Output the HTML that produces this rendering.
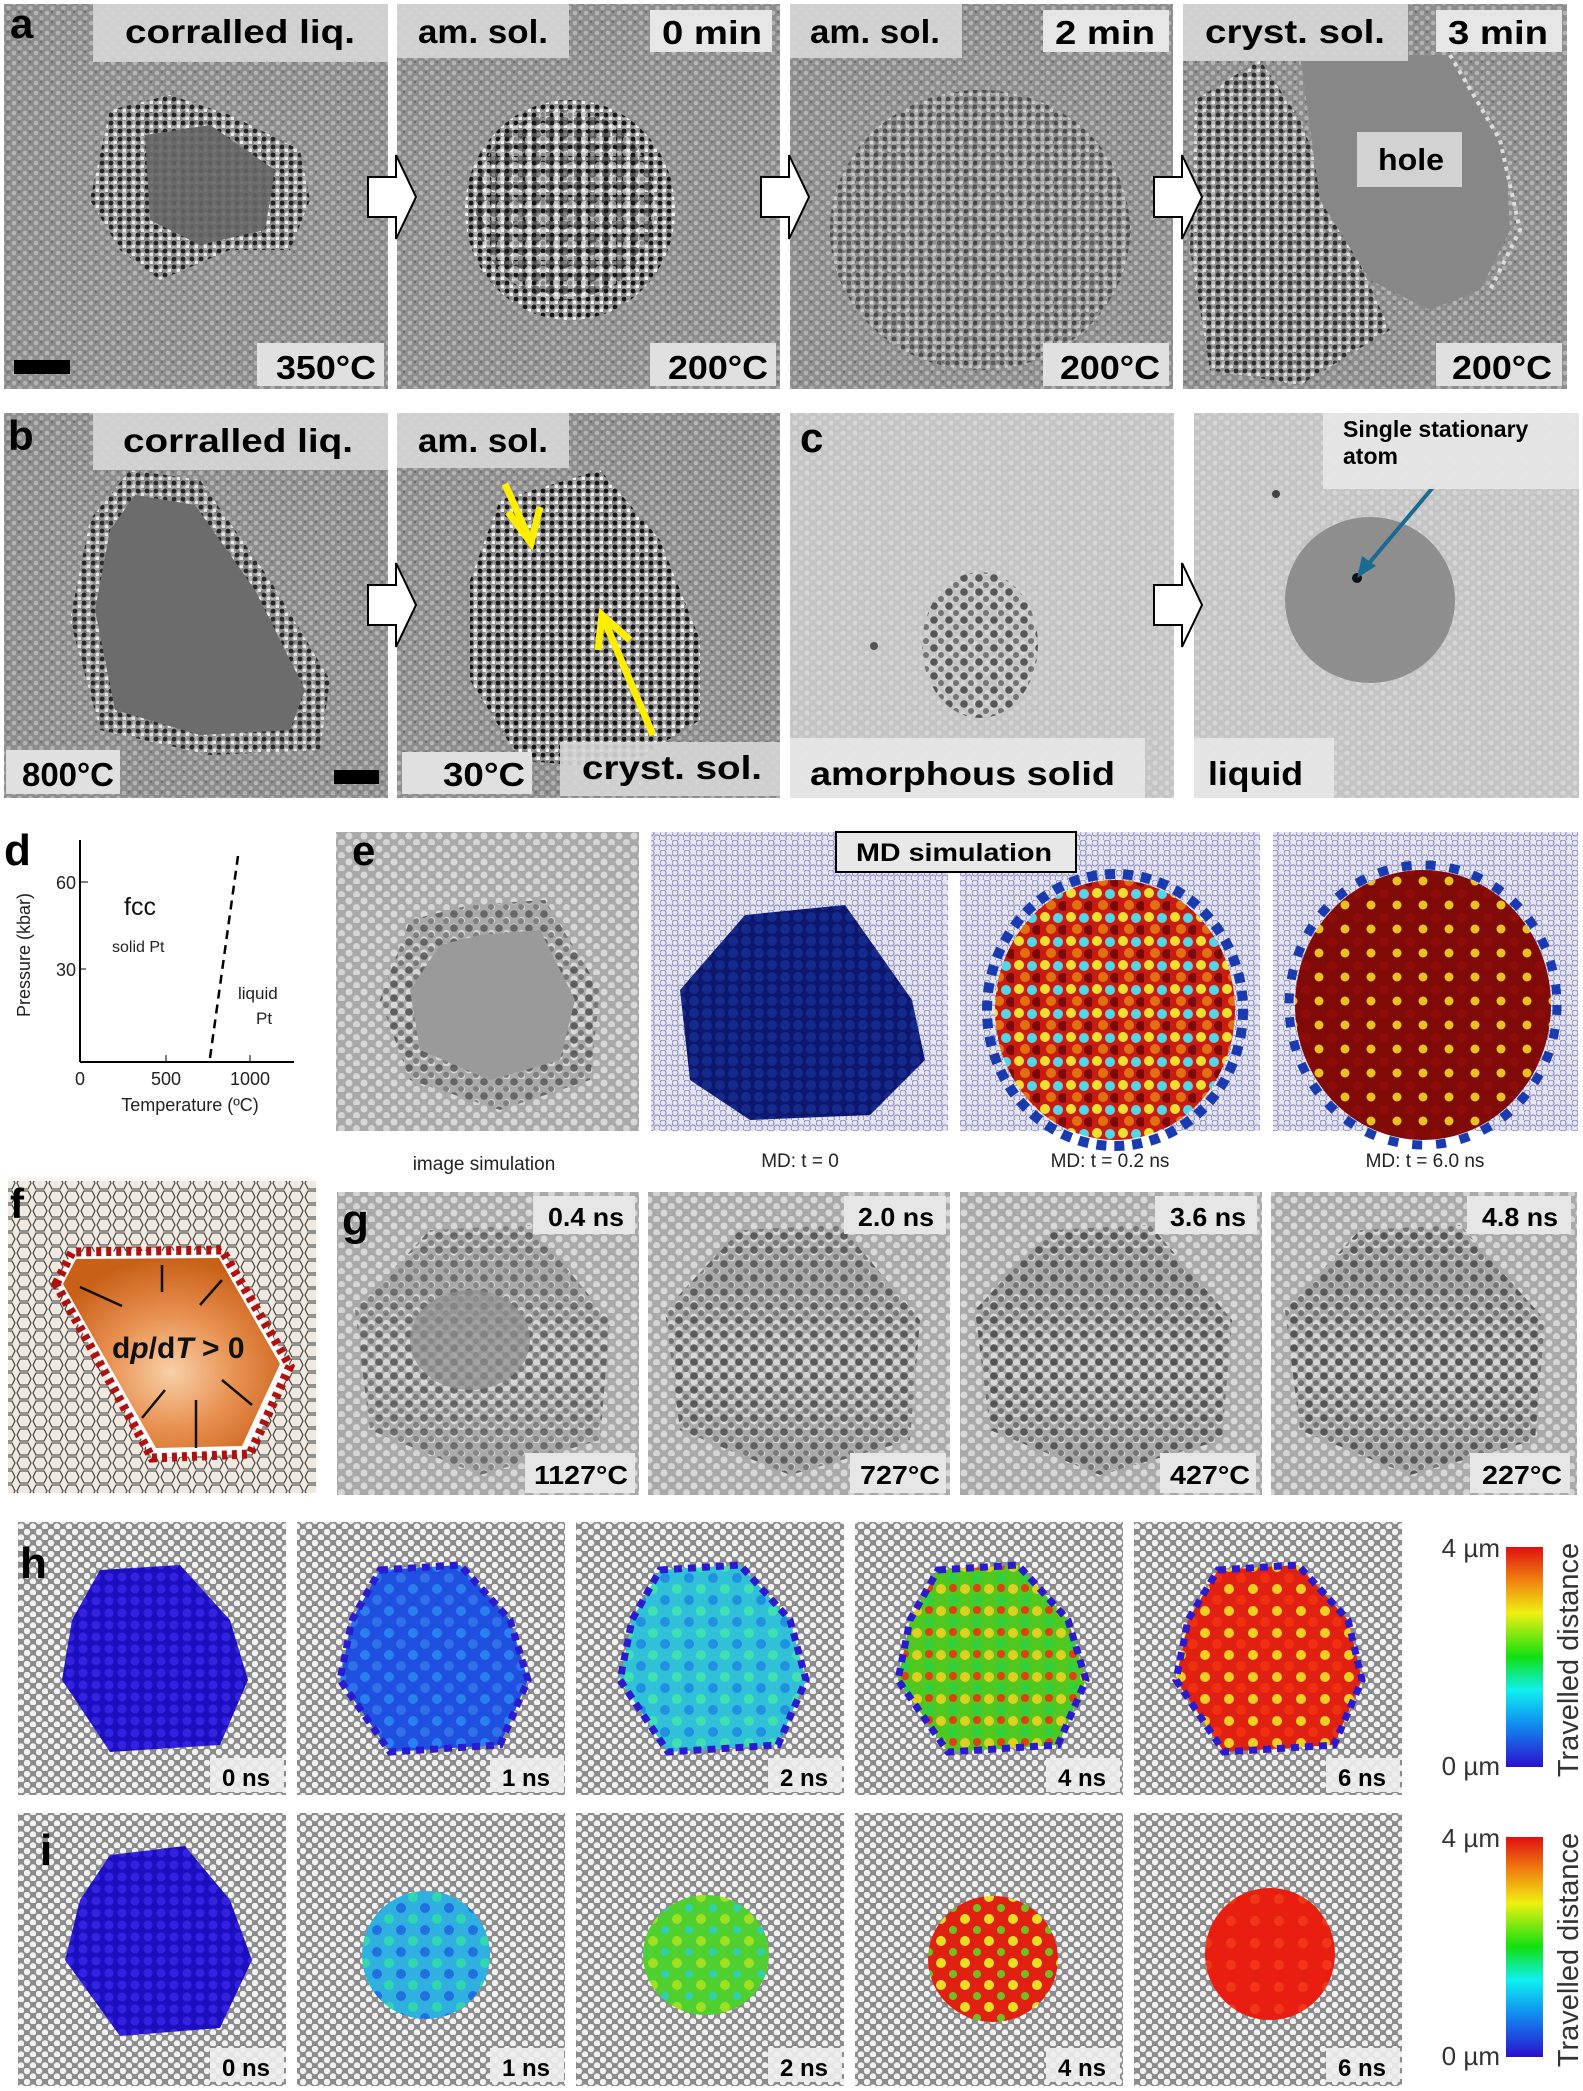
<!DOCTYPE html>
<html><head><meta charset="utf-8"><style>
html,body{margin:0;padding:0;background:#fff}
svg{display:block}
text{font-family:"Liberation Sans",sans-serif}
.b{font-weight:bold}
</style></head><body>
<svg width="1583" height="2091" viewBox="0 0 1583 2091" xmlns="http://www.w3.org/2000/svg">
<defs>
<pattern id="tem" width="11" height="10" patternUnits="userSpaceOnUse"><rect width="11" height="10" fill="#8d8d8d"/><circle cx="3" cy="3" r="2.3" fill="#b4b4b4"/><circle cx="8.5" cy="8" r="2.3" fill="#b0b0b0"/><circle cx="8" cy="2" r="1.2" fill="#6e6e6e"/></pattern>
<pattern id="temL" width="12" height="10" patternUnits="userSpaceOnUse"><rect width="12" height="10" fill="#c4c4c4"/><circle cx="3" cy="3" r="2.5" fill="#d6d6d6"/><circle cx="9" cy="8" r="2.5" fill="#d2d2d2"/></pattern>
<pattern id="gsim" width="15" height="13" patternUnits="userSpaceOnUse"><rect width="15" height="13" fill="#a9a9a9"/><circle cx="4" cy="4" r="3.5" fill="#d8d8d8"/><circle cx="11.5" cy="10.5" r="3.5" fill="#d4d4d4"/></pattern>
<pattern id="md" width="12" height="10" patternUnits="userSpaceOnUse"><rect width="12" height="10" fill="#e6e6f2"/><circle cx="3" cy="3" r="3" fill="none" stroke="#8e8ec4" stroke-width="1.2"/><circle cx="9" cy="8" r="3" fill="none" stroke="#8e8ec4" stroke-width="1.2"/></pattern>
<pattern id="gr" width="12" height="11" patternUnits="userSpaceOnUse"><rect width="12" height="11" fill="#8c8c8c"/><circle cx="3" cy="3" r="3.2" fill="#f2f2f2"/><circle cx="9" cy="8.5" r="3.2" fill="#f2f2f2"/></pattern>
<pattern id="fh" width="16" height="14" patternUnits="userSpaceOnUse"><rect width="16" height="14" fill="#efe9df"/><polygon points="4,1 12,1 15,7 12,13 4,13 1,7" fill="none" stroke="#3a3a3a" stroke-width="1.1"/></pattern>
<pattern id="dots" width="14" height="13" patternUnits="userSpaceOnUse"><circle cx="4" cy="4" r="4.6" fill="#1a1a1a"/><circle cx="11" cy="10" r="4.2" fill="#f4f4f4"/></pattern>
<pattern id="dotsS" width="9" height="8" patternUnits="userSpaceOnUse"><circle cx="3" cy="3" r="2.4" fill="#151515"/><circle cx="7.5" cy="6.5" r="2" fill="#f4f4f4"/></pattern>
<pattern id="gdots" width="15" height="14" patternUnits="userSpaceOnUse"><circle cx="4" cy="4" r="3.8" fill="#4a4a4a"/><circle cx="11" cy="11" r="3" fill="#6a6a6a"/></pattern>
<pattern id="bDark" width="13" height="12" patternUnits="userSpaceOnUse"><rect width="13" height="12" fill="#0c1870"/><circle cx="5" cy="5" r="5" fill="#152a8a"/></pattern>
<pattern id="b0" width="13" height="12" patternUnits="userSpaceOnUse"><rect width="13" height="12" fill="#1c0fc0"/><circle cx="5" cy="5" r="4.5" fill="#3322e0"/></pattern>
<pattern id="mixA" width="26" height="24" patternUnits="userSpaceOnUse"><rect width="26" height="24" fill="#c81c10"/><circle cx="5" cy="5" r="5" fill="#f0e030"/><circle cx="18" cy="6" r="5" fill="#50d8e8"/><circle cx="11" cy="17" r="5" fill="#e07010"/><circle cx="23" cy="18" r="5" fill="#7a0a0a"/></pattern>
<pattern id="mixB" width="26" height="24" patternUnits="userSpaceOnUse"><rect width="26" height="24" fill="#800a08"/><circle cx="6" cy="6" r="5" fill="#900c0a"/><circle cx="19" cy="17" r="4.5" fill="#e8c020"/></pattern>
<pattern id="h1" width="24" height="22" patternUnits="userSpaceOnUse"><rect width="24" height="22" fill="#2050e0"/><circle cx="5" cy="5" r="5" fill="#2a80f0"/><circle cx="17" cy="16" r="5" fill="#3070e8"/></pattern>
<pattern id="h2" width="24" height="22" patternUnits="userSpaceOnUse"><rect width="24" height="22" fill="#30c0d8"/><circle cx="5" cy="5" r="5" fill="#40e0b0"/><circle cx="17" cy="16" r="5" fill="#2090e0"/></pattern>
<pattern id="h3" width="24" height="22" patternUnits="userSpaceOnUse"><rect width="24" height="22" fill="#50c820"/><circle cx="5" cy="5" r="5" fill="#e0d020"/><circle cx="17" cy="16" r="5" fill="#30d040"/><circle cx="17" cy="4" r="4" fill="#e04010"/></pattern>
<pattern id="h4" width="24" height="22" patternUnits="userSpaceOnUse"><rect width="24" height="22" fill="#e02010"/><circle cx="5" cy="5" r="5" fill="#f0d020"/><circle cx="17" cy="16" r="5" fill="#f03010"/></pattern>
<pattern id="i4" width="24" height="22" patternUnits="userSpaceOnUse"><rect width="24" height="22" fill="#e81e10"/><circle cx="7" cy="7" r="5" fill="#f03818"/></pattern>
<pattern id="i3" width="24" height="22" patternUnits="userSpaceOnUse"><rect width="24" height="22" fill="#e02010"/><circle cx="5" cy="5" r="5" fill="#e8e020"/><circle cx="17" cy="16" r="4" fill="#70c020"/></pattern>
<pattern id="i2" width="24" height="22" patternUnits="userSpaceOnUse"><rect width="24" height="22" fill="#50d030"/><circle cx="5" cy="5" r="5" fill="#a0e020"/><circle cx="17" cy="16" r="4" fill="#30d0b0"/></pattern>
<pattern id="i1" width="24" height="22" patternUnits="userSpaceOnUse"><rect width="24" height="22" fill="#30b0e0"/><circle cx="5" cy="5" r="5" fill="#30d8b0"/><circle cx="17" cy="16" r="5" fill="#2070e0"/></pattern>
<linearGradient id="cb" x1="0" y1="1" x2="0" y2="0"><stop offset="0" stop-color="#2a10d0"/><stop offset=".2" stop-color="#1090f0"/><stop offset=".35" stop-color="#10f0f0"/><stop offset=".5" stop-color="#10e010"/><stop offset=".7" stop-color="#f0f010"/><stop offset=".85" stop-color="#f08010"/><stop offset="1" stop-color="#e01010"/></linearGradient>
<radialGradient id="org" cx=".5" cy=".6" r=".6"><stop offset="0" stop-color="#f8d0a8"/><stop offset=".5" stop-color="#e89050"/><stop offset="1" stop-color="#c86018"/></radialGradient>
<g id="arr"><polygon points="0,-20 28,-20 28,-42 48,0 28,42 28,20 0,20" fill="#fff" stroke="#000" stroke-width="2"/></g>
</defs>

<!-- ROW a -->
<rect x="4" y="4" width="384" height="385" fill="url(#tem)"/>
<rect x="397" y="4" width="383" height="385" fill="url(#tem)"/>
<rect x="790" y="4" width="383" height="385" fill="url(#tem)"/>
<rect x="1183" y="4" width="384" height="385" fill="url(#tem)"/>
<polygon points="110,110 170,95 230,115 300,150 310,200 290,250 230,250 160,280 120,250 90,200" fill="url(#dotsS)" opacity=".9"/>
<polygon points="145,135 210,125 275,170 265,230 200,245 150,220" fill="#666" opacity=".9"/>
<ellipse cx="570" cy="210" rx="105" ry="110" fill="url(#dotsS)"/>
<ellipse cx="565" cy="205" rx="90" ry="95" fill="url(#dots)" opacity=".5"/>
<ellipse cx="980" cy="230" rx="150" ry="140" fill="url(#dotsS)" opacity=".55"/>
<polygon points="1195,100 1260,60 1300,120 1340,220 1390,330 1300,385 1210,370 1190,250" fill="url(#dotsS)" opacity=".8"/>
<path d="M1300,55 L1450,55 L1505,150 L1510,230 L1480,290 L1430,310 L1370,280 L1320,200 Z" fill="#878787"/>
<path d="M1450,55 L1500,140 L1520,230 L1490,290" fill="none" stroke="#ddd" stroke-width="4" stroke-dasharray="4 5"/>
<rect x="93" y="4" width="295" height="58" fill="#d6d6d6" opacity=".92"/>
<text x="125" y="43" font-size="33" class="b" textLength="230" lengthAdjust="spacingAndGlyphs">corralled liq.</text>
<text x="10" y="38" font-size="42" class="b">a</text>
<rect x="14" y="360" width="56" height="14" fill="#000"/>
<rect x="257" y="343" width="127" height="43" fill="#e0e0e0"/>
<text x="276" y="379" font-size="33" class="b" textLength="100" lengthAdjust="spacingAndGlyphs">350°C</text>
<rect x="397" y="4" width="172" height="54" fill="#d6d6d6" opacity=".92"/>
<text x="418" y="43" font-size="33" class="b" textLength="130" lengthAdjust="spacingAndGlyphs">am. sol.</text>
<rect x="650" y="10" width="122" height="42" fill="#e6e6e6"/>
<text x="662" y="44" font-size="33" class="b" textLength="100" lengthAdjust="spacingAndGlyphs">0 min</text>
<rect x="650" y="343" width="126" height="43" fill="#e0e0e0"/>
<text x="668" y="379" font-size="33" class="b" textLength="100" lengthAdjust="spacingAndGlyphs">200°C</text>
<rect x="790" y="4" width="172" height="54" fill="#d6d6d6" opacity=".92"/>
<text x="810" y="43" font-size="33" class="b" textLength="130" lengthAdjust="spacingAndGlyphs">am. sol.</text>
<rect x="1043" y="10" width="126" height="42" fill="#e6e6e6"/>
<text x="1055" y="44" font-size="33" class="b" textLength="100" lengthAdjust="spacingAndGlyphs">2 min</text>
<rect x="1043" y="343" width="126" height="43" fill="#e0e0e0"/>
<text x="1060" y="379" font-size="33" class="b" textLength="100" lengthAdjust="spacingAndGlyphs">200°C</text>
<rect x="1183" y="4" width="225" height="57" fill="#d6d6d6" opacity=".92"/>
<text x="1205" y="43" font-size="33" class="b" textLength="180" lengthAdjust="spacingAndGlyphs">cryst. sol.</text>
<rect x="1436" y="10" width="126" height="42" fill="#e6e6e6"/>
<text x="1448" y="44" font-size="33" class="b" textLength="100" lengthAdjust="spacingAndGlyphs">3 min</text>
<rect x="1357" y="132" width="105" height="55" fill="#d2d2d2"/>
<text x="1378" y="170" font-size="31" class="b" textLength="66" lengthAdjust="spacingAndGlyphs">hole</text>
<rect x="1436" y="343" width="126" height="43" fill="#e0e0e0"/>
<text x="1452" y="379" font-size="33" class="b" textLength="100" lengthAdjust="spacingAndGlyphs">200°C</text>
<use href="#arr" x="368" y="197"/>
<use href="#arr" x="761" y="197"/>
<use href="#arr" x="1154" y="197"/>

<!-- ROW b/c -->
<rect x="4" y="413" width="384" height="385" fill="url(#tem)"/>
<rect x="397" y="413" width="383" height="385" fill="url(#tem)"/>
<rect x="790" y="413" width="384" height="385" fill="url(#temL)"/>
<rect x="1194" y="413" width="385" height="385" fill="url(#temL)"/>
<polygon points="130,470 200,480 270,580 330,680 320,750 210,755 100,730 70,620 90,520" fill="url(#dotsS)" opacity=".85"/>
<polygon points="135,495 195,505 255,590 305,690 290,730 200,735 115,710 95,610 110,530" fill="#6c6c6c"/>
<polygon points="500,500 600,470 660,540 700,640 700,720 620,770 520,760 470,680 470,580" fill="url(#dotsS)"/>
<polygon points="540,560 610,540 660,620 640,700 560,720 520,650" fill="url(#dotsS)" opacity=".6"/>
<line x1="505" y1="484" x2="530" y2="540" stroke="#ffee00" stroke-width="7"/>
<polyline points="508,512 531,543 540,507" fill="none" stroke="#ffee00" stroke-width="7"/>
<line x1="653" y1="735" x2="602" y2="615" stroke="#ffee00" stroke-width="7"/>
<polyline points="598,650 602,615 630,640" fill="none" stroke="#ffee00" stroke-width="7"/>
<ellipse cx="980" cy="645" rx="58" ry="73" fill="url(#gdots)" opacity=".9"/>
<circle cx="874" cy="646" r="4" fill="#555"/>
<ellipse cx="1370" cy="600" rx="85" ry="83" fill="#8e8e8e"/>
<circle cx="1357" cy="578" r="5" fill="#111"/>
<circle cx="1276" cy="494" r="4" fill="#444"/>
<line x1="1435" y1="485" x2="1365" y2="568" stroke="#1a6a92" stroke-width="4"/>
<polygon points="1357,578 1362,556 1376,566" fill="#1a6a92"/>
<rect x="93" y="413" width="295" height="57" fill="#d6d6d6" opacity=".92"/>
<text x="123" y="452" font-size="33" class="b" textLength="230" lengthAdjust="spacingAndGlyphs">corralled liq.</text>
<text x="8" y="450" font-size="42" class="b">b</text>
<rect x="6" y="750" width="114" height="44" fill="#e0e0e0"/>
<text x="22" y="786" font-size="33" class="b" textLength="92" lengthAdjust="spacingAndGlyphs">800°C</text>
<rect x="334" y="770" width="45" height="14" fill="#000"/>
<rect x="397" y="413" width="172" height="55" fill="#d6d6d6" opacity=".92"/>
<text x="418" y="452" font-size="33" class="b" textLength="130" lengthAdjust="spacingAndGlyphs">am. sol.</text>
<rect x="402" y="752" width="130" height="42" fill="#e0e0e0"/>
<text x="443" y="786" font-size="33" class="b" textLength="82" lengthAdjust="spacingAndGlyphs">30°C</text>
<rect x="560" y="742" width="220" height="54" fill="#d6d6d6" opacity=".9"/>
<text x="582" y="779" font-size="33" class="b" textLength="180" lengthAdjust="spacingAndGlyphs">cryst. sol.</text>
<text x="800" y="452" font-size="42" class="b">c</text>
<rect x="790" y="738" width="355" height="60" fill="#e6e6e6" opacity=".95"/>
<text x="810" y="785" font-size="33" class="b" textLength="305" lengthAdjust="spacingAndGlyphs">amorphous solid</text>
<rect x="1194" y="738" width="140" height="60" fill="#e6e6e6" opacity=".95"/>
<text x="1208" y="785" font-size="33" class="b" textLength="95" lengthAdjust="spacingAndGlyphs">liquid</text>
<rect x="1323" y="413" width="256" height="76" fill="#e6e6e6" opacity=".95"/>
<text x="1343" y="437" font-size="23" class="b">Single stationary</text>
<text x="1343" y="464" font-size="23" class="b">atom</text>
<use href="#arr" x="1154" y="605"/>
<use href="#arr" x="368" y="605"/>

<!-- d -->
<text x="4" y="865" font-size="44" class="b">d</text>
<line x1="80" y1="840" x2="80" y2="1062" stroke="#000" stroke-width="2"/>
<line x1="80" y1="1062" x2="294" y2="1062" stroke="#000" stroke-width="2"/>
<line x1="80" y1="882" x2="88" y2="882" stroke="#000"/><line x1="80" y1="969" x2="86" y2="969" stroke="#000"/>
<line x1="166" y1="1062" x2="166" y2="1055" stroke="#000"/><line x1="250" y1="1062" x2="250" y2="1055" stroke="#000"/>
<line x1="210" y1="1058" x2="238" y2="856" stroke="#000" stroke-width="2.5" stroke-dasharray="9 6"/>
<text x="76" y="889" font-size="18" text-anchor="end" fill="#222">60</text>
<text x="76" y="976" font-size="18" text-anchor="end" fill="#222">30</text>
<text x="80" y="1085" font-size="18" text-anchor="middle" fill="#222">0</text>
<text x="166" y="1085" font-size="18" text-anchor="middle" fill="#222">500</text>
<text x="250" y="1085" font-size="18" text-anchor="middle" fill="#222">1000</text>
<text x="190" y="1111" font-size="18" text-anchor="middle" fill="#222">Temperature (ºC)</text>
<text transform="translate(30,955) rotate(-90)" font-size="18" text-anchor="middle" fill="#222">Pressure (kbar)</text>
<text x="124" y="915" font-size="25" fill="#111">fcc</text>
<text x="112" y="952" font-size="16" fill="#222">solid Pt</text>
<text x="238" y="999" font-size="17" fill="#222">liquid</text>
<text x="256" y="1024" font-size="17" fill="#222">Pt</text>

<!-- e -->
<rect x="336" y="832" width="303" height="299" fill="url(#gsim)"/>
<polygon points="470,905 545,900 600,990 590,1080 500,1110 410,1080 380,1000 410,920" fill="url(#gdots)" opacity=".8"/>
<polygon points="480,935 540,930 575,1000 560,1060 490,1080 420,1050 410,990 440,945" fill="#9a9a9a"/>
<text x="352" y="865" font-size="42" class="b">e</text>
<rect x="651" y="832" width="297" height="299" fill="url(#md)"/>
<rect x="960" y="832" width="300" height="299" fill="url(#md)"/>
<rect x="1273" y="832" width="305" height="299" fill="url(#md)"/>
<polygon points="745,915 845,905 912,1000 925,1060 870,1115 750,1120 690,1080 680,990" fill="url(#bDark)"/>
<ellipse cx="1115" cy="1010" rx="120" ry="130" fill="url(#mixA)"/>
<ellipse cx="1115" cy="1010" rx="128" ry="136" fill="none" stroke="#1a3ab0" stroke-width="10" stroke-dasharray="10 8"/>
<ellipse cx="1423" cy="1005" rx="128" ry="135" fill="url(#mixB)"/>
<ellipse cx="1423" cy="1005" rx="134" ry="140" fill="none" stroke="#1a3ab0" stroke-width="9" stroke-dasharray="10 14"/>
<rect x="836" y="832" width="240" height="40" fill="#e8e8e8" stroke="#000" stroke-width="2"/>
<text x="856" y="861" font-size="25" class="b" textLength="196" lengthAdjust="spacingAndGlyphs">MD simulation</text>
<text x="484" y="1170" font-size="19" text-anchor="middle" fill="#222">image simulation</text>
<text x="800" y="1167" font-size="19" text-anchor="middle" fill="#222">MD: t = 0</text>
<text x="1110" y="1167" font-size="19" text-anchor="middle" fill="#222">MD: t = 0.2 ns</text>
<text x="1425" y="1167" font-size="19" text-anchor="middle" fill="#222">MD: t = 6.0 ns</text>

<!-- f -->
<rect x="8" y="1181" width="308" height="312" fill="url(#fh)"/>
<polygon points="56,1284 72,1252 222,1250 290,1366 250,1454 152,1458" fill="#fff"/>
<polygon points="63,1284 76,1259 219,1258 280,1364 242,1446 156,1448" fill="url(#org)"/>
<polygon points="56,1284 72,1252 222,1250 290,1366 250,1454 152,1458" fill="none" stroke="#b01010" stroke-width="9" stroke-dasharray="5 5"/>
<text x="112" y="1358" font-size="30" class="b" fill="#111">d<tspan font-style="italic">p</tspan>/d<tspan font-style="italic">T</tspan> &gt; 0</text>
<g stroke="#111" stroke-width="2.5" fill="#111">
<line x1="80" y1="1287" x2="122" y2="1306"/><line x1="162" y1="1265" x2="162" y2="1292"/><line x1="222" y1="1280" x2="200" y2="1305"/>
<line x1="142" y1="1418" x2="165" y2="1390"/><line x1="196" y1="1448" x2="196" y2="1400"/><line x1="252" y1="1405" x2="222" y2="1380"/>
</g>
<text x="10" y="1218" font-size="42" class="b">f</text>

<!-- g -->
<rect x="337" y="1192" width="302" height="303" fill="url(#gsim)"/>
<rect x="648" y="1192" width="302" height="303" fill="url(#gsim)"/>
<rect x="960" y="1192" width="302" height="303" fill="url(#gsim)"/>
<rect x="1271" y="1192" width="306" height="303" fill="url(#gsim)"/>
<polygon points="430,1230 530,1225 610,1320 600,1440 480,1475 370,1430 355,1310" fill="url(#gdots)" opacity=".75"/>
<ellipse cx="470" cy="1340" rx="60" ry="50" fill="#8e8e8e" opacity=".7"/>
<polygon points="740,1230 840,1225 920,1320 910,1440 790,1475 680,1430 665,1310" fill="url(#gdots)" opacity=".85"/>
<polygon points="1050,1230 1150,1225 1232,1320 1222,1440 1100,1475 990,1430 975,1310" fill="url(#gdots)" opacity=".9"/>
<polygon points="1360,1230 1460,1225 1545,1320 1535,1440 1410,1475 1300,1430 1285,1310" fill="url(#gdots)" opacity=".9"/>
<text x="342" y="1235" font-size="44" class="b">g</text>
<rect x="533" y="1196" width="102" height="38" fill="#e6e6e6"/>
<text x="548" y="1226" font-size="26" class="b" textLength="76" lengthAdjust="spacingAndGlyphs">0.4 ns</text>
<rect x="844" y="1196" width="102" height="38" fill="#e6e6e6"/>
<text x="858" y="1226" font-size="26" class="b" textLength="76" lengthAdjust="spacingAndGlyphs">2.0 ns</text>
<rect x="1155" y="1196" width="102" height="38" fill="#e6e6e6"/>
<text x="1170" y="1226" font-size="26" class="b" textLength="76" lengthAdjust="spacingAndGlyphs">3.6 ns</text>
<rect x="1467" y="1196" width="104" height="38" fill="#e6e6e6"/>
<text x="1482" y="1226" font-size="26" class="b" textLength="76" lengthAdjust="spacingAndGlyphs">4.8 ns</text>
<rect x="525" y="1453" width="110" height="40" fill="#e6e6e6"/>
<text x="534" y="1484" font-size="26" class="b" textLength="94" lengthAdjust="spacingAndGlyphs">1127°C</text>
<rect x="850" y="1453" width="96" height="40" fill="#e6e6e6"/>
<text x="860" y="1484" font-size="26" class="b" textLength="80" lengthAdjust="spacingAndGlyphs">727°C</text>
<rect x="1160" y="1453" width="96" height="40" fill="#e6e6e6"/>
<text x="1170" y="1484" font-size="26" class="b" textLength="80" lengthAdjust="spacingAndGlyphs">427°C</text>
<rect x="1470" y="1453" width="100" height="40" fill="#e6e6e6"/>
<text x="1482" y="1484" font-size="26" class="b" textLength="80" lengthAdjust="spacingAndGlyphs">227°C</text>

<!-- h -->
<g>
<rect x="18" y="1522" width="268" height="273" fill="url(#gr)"/>
<rect x="297" y="1522" width="268" height="273" fill="url(#gr)"/>
<rect x="576" y="1522" width="268" height="273" fill="url(#gr)"/>
<rect x="855" y="1522" width="268" height="273" fill="url(#gr)"/>
<rect x="1134" y="1522" width="268" height="273" fill="url(#gr)"/>
<polygon points="100,1570 180,1565 230,1620 248,1680 220,1745 110,1752 62,1680 72,1620" fill="url(#b0)"/>
<polygon points="380,1570 460,1565 510,1620 528,1680 500,1745 390,1752 340,1680 352,1620" fill="url(#h1)" stroke="#2a1ad0" stroke-width="7" stroke-dasharray="8 6"/>
<polygon points="660,1570 740,1565 790,1620 806,1680 778,1745 668,1752 620,1680 632,1620" fill="url(#h2)" stroke="#2a1ad0" stroke-width="7" stroke-dasharray="8 6"/>
<polygon points="938,1570 1018,1565 1068,1620 1086,1680 1058,1745 948,1752 898,1680 910,1620" fill="url(#h3)" stroke="#2a1ad0" stroke-width="7" stroke-dasharray="8 6"/>
<polygon points="1218,1570 1298,1565 1348,1620 1362,1680 1334,1745 1224,1752 1176,1680 1188,1620" fill="url(#h4)" stroke="#2a1ad0" stroke-width="7" stroke-dasharray="8 6"/>
<text x="20" y="1578" font-size="44" class="b">h</text>
<g font-size="24" class="b">
<rect x="210" y="1758" width="74" height="34" fill="#eee" opacity=".9"/><text x="222" y="1786" textLength="48" lengthAdjust="spacingAndGlyphs">0 ns</text>
<rect x="490" y="1758" width="74" height="34" fill="#eee" opacity=".9"/><text x="502" y="1786" textLength="48" lengthAdjust="spacingAndGlyphs">1 ns</text>
<rect x="768" y="1758" width="74" height="34" fill="#eee" opacity=".9"/><text x="780" y="1786" textLength="48" lengthAdjust="spacingAndGlyphs">2 ns</text>
<rect x="1046" y="1758" width="74" height="34" fill="#eee" opacity=".9"/><text x="1058" y="1786" textLength="48" lengthAdjust="spacingAndGlyphs">4 ns</text>
<rect x="1326" y="1758" width="74" height="34" fill="#eee" opacity=".9"/><text x="1338" y="1786" textLength="48" lengthAdjust="spacingAndGlyphs">6 ns</text>
</g>
<rect x="1506" y="1547" width="37" height="220" fill="url(#cb)"/>
<text x="1500" y="1557" font-size="26" text-anchor="end" fill="#333">4 µm</text>
<text x="1500" y="1775" font-size="26" text-anchor="end" fill="#333">0 µm</text>
<text transform="translate(1578,1660) rotate(-90)" font-size="29" text-anchor="middle" fill="#333">Travelled distance</text>
</g>

<!-- i -->
<g>
<rect x="18" y="1813" width="268" height="273" fill="url(#gr)"/>
<rect x="297" y="1813" width="268" height="273" fill="url(#gr)"/>
<rect x="576" y="1813" width="268" height="273" fill="url(#gr)"/>
<rect x="855" y="1813" width="268" height="273" fill="url(#gr)"/>
<rect x="1134" y="1813" width="268" height="273" fill="url(#gr)"/>
<polygon points="110,1855 185,1846 230,1900 252,1960 220,2028 120,2036 65,1960 80,1900" fill="url(#b0)"/>
<ellipse cx="426" cy="1955" rx="64" ry="64" fill="url(#i1)"/>
<ellipse cx="706" cy="1955" rx="63" ry="60" fill="url(#i2)"/>
<ellipse cx="993" cy="1959" rx="65" ry="63" fill="url(#i3)"/>
<ellipse cx="1270" cy="1954" rx="65" ry="66" fill="url(#i4)"/>
<text x="40" y="1865" font-size="44" class="b">i</text>
<g font-size="24" class="b">
<rect x="210" y="2048" width="74" height="34" fill="#eee" opacity=".9"/><text x="222" y="2076" textLength="48" lengthAdjust="spacingAndGlyphs">0 ns</text>
<rect x="490" y="2048" width="74" height="34" fill="#eee" opacity=".9"/><text x="502" y="2076" textLength="48" lengthAdjust="spacingAndGlyphs">1 ns</text>
<rect x="768" y="2048" width="74" height="34" fill="#eee" opacity=".9"/><text x="780" y="2076" textLength="48" lengthAdjust="spacingAndGlyphs">2 ns</text>
<rect x="1046" y="2048" width="74" height="34" fill="#eee" opacity=".9"/><text x="1058" y="2076" textLength="48" lengthAdjust="spacingAndGlyphs">4 ns</text>
<rect x="1326" y="2048" width="74" height="34" fill="#eee" opacity=".9"/><text x="1338" y="2076" textLength="48" lengthAdjust="spacingAndGlyphs">6 ns</text>
</g>
<rect x="1506" y="1837" width="37" height="220" fill="url(#cb)"/>
<text x="1500" y="1847" font-size="26" text-anchor="end" fill="#333">4 µm</text>
<text x="1500" y="2065" font-size="26" text-anchor="end" fill="#333">0 µm</text>
<text transform="translate(1578,1950) rotate(-90)" font-size="29" text-anchor="middle" fill="#333">Travelled distance</text>
</g>
</svg>
</body></html>
